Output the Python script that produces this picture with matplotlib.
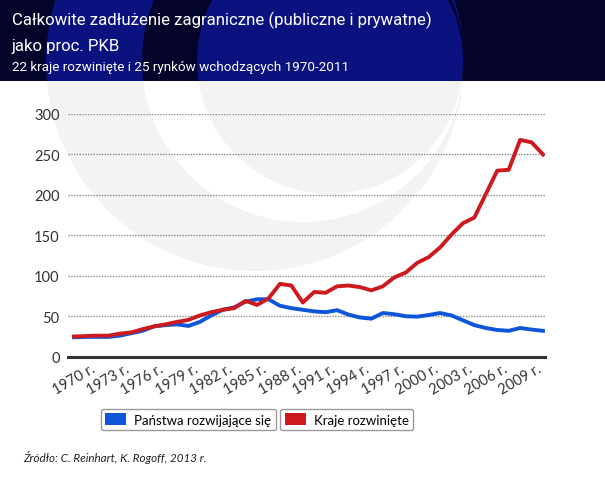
import matplotlib
matplotlib.use("Agg")
import matplotlib.pyplot as plt
from matplotlib.patches import Rectangle, Circle, Patch
import numpy as np

years = list(range(1970, 2012))
developing = [24, 24.5, 24.5, 24.5, 26, 29, 32, 37.5, 39, 40, 38, 43, 51, 58, 61,
              68, 71, 71, 63, 60, 58, 56, 55, 57.5, 52, 48.5, 47, 54, 52.5, 50,
              49.5, 51.5, 54, 51, 45, 39, 35.5, 33, 32, 35.5, 33.5, 32]
developed = [25, 25.5, 26, 26, 28.5, 30, 34, 37.5, 40, 43, 45.5, 51, 55, 58, 60,
             69, 64, 72, 90, 88, 67, 80, 79, 87, 88, 86, 82, 87, 98, 104,
             116, 123, 135, 151, 165, 172, 201, 230, 231, 268, 265, 250]
tick_years = list(range(1970, 2010, 3))
tick_labels = [f"{y} r." for y in tick_years]
y_ticks = [0, 50, 100, 150, 200, 250, 300]

title1 = "Całkowite zadłużenie zagraniczne (publiczne i prywatne)"
title2 = "jako proc. PKB"
subtitle = "22 kraje rozwinięte i 25 rynków wchodzących 1970-2011"
legend_labels = ["Państwa rozwijające się", "Kraje rozwinięte"]
source = "Źródło: C. Reinhart, K. Rogoff, 2013 r."

W, H = 605, 485
BLUE = "#0d55d9"
RED = "#cc1a1f"
NAVY = "#04042a"
NAVY_L = "#0a1280"
WM = "#f3f3f3"

fig = plt.figure(figsize=(W / 100, H / 100), dpi=100)
fig.patch.set_facecolor("white")

# background / decoration axes in pixel coordinates
bg = fig.add_axes([0, 0, 1, 1], zorder=0)
bg.set_xlim(0, W)
bg.set_ylim(H, 0)
bg.axis("off")
HEADER_H = 82
header = Rectangle((0, 0), W, HEADER_H, facecolor=NAVY, edgecolor="none")
bg.add_patch(header)
body_clip = Rectangle((0, HEADER_H), W, H - HEADER_H, transform=bg.transData)
head_clip = Rectangle((0, 0), W, HEADER_H, transform=bg.transData)
shapes = [((255, 63), 209), ((303, 62), 161), ((330, 62), 133)]
for i, (c, r) in enumerate(shapes):
    col_body = WM if i != 1 else "white"
    col_head = NAVY_L if i != 1 else NAVY
    cb = Circle(c, r, facecolor=col_body, edgecolor="none")
    bg.add_patch(cb)
    cb.set_clip_path(body_clip)
    ch = Circle(c, r, facecolor=col_head, edgecolor="none")
    bg.add_patch(ch)
    ch.set_clip_path(head_clip)

def fx(x):
    return x / W

def fy(y):
    return 1 - y / H

head_font = ["Roboto", "DejaVu Sans"]
fig.text(fx(12), fy(20), title1, color="white", fontsize=12.1, family=head_font,
         va="center", ha="left", zorder=5)
fig.text(fx(12), fy(46), title2, color="white", fontsize=12.1, family=head_font,
         va="center", ha="left", zorder=5)
fig.text(fx(12), fy(68), subtitle, color="white", fontsize=9.7, family=head_font,
         va="center", ha="left", zorder=5)

# main axes
x0, x1 = 68, 545
y_top, y_bot = 115, 357.7
ax = fig.add_axes([fx(x0), fy(y_bot), (x1 - x0) / W, (y_bot - y_top) / H], zorder=2)
ax.patch.set_alpha(0)
ax.plot(years, developing, color=BLUE, lw=2.8, solid_joinstyle="round", zorder=3)
ax.plot(years, developed, color=RED, lw=2.8, solid_joinstyle="round", zorder=4)
px_per_year = (543 - 74) / 41
ax.set_xlim(1970 - 6 / px_per_year, 2011 + 2 / px_per_year)
ax.set_ylim(0, 300)
ax.set_yticks(y_ticks)
ax.set_yticklabels([str(v) for v in y_ticks], family=["Lato", "DejaVu Sans"],
                   fontsize=10.5, color="#333333")
ax.set_xticks(tick_years)
ax.set_xticklabels(tick_labels, rotation=30, ha="center", va="top",
                   family=["Lato", "DejaVu Sans"], fontsize=10.5, color="#333333")
ax.tick_params(axis="both", length=0)
ax.tick_params(axis="y", pad=6)
ax.tick_params(axis="x", pad=3)
for s in ["top", "right", "left"]:
    ax.spines[s].set_visible(False)
ax.spines["bottom"].set_color("#333333")
ax.spines["bottom"].set_linewidth(2.2)
ax.yaxis.grid(True, linestyle=(0, (1, 1)), color="#8a8a8a", lw=1.0)
ax.set_axisbelow(True)

leg_font = {"family": ["Lato", "DejaVu Sans"], "size": 9.5}
common = dict(prop=leg_font, handlelength=1.6, handleheight=0.95, handletextpad=0.6,
              borderpad=0.35, borderaxespad=0, fancybox=True, framealpha=1,
              edgecolor="#9a9a9a")
l1 = fig.legend(handles=[Patch(facecolor=BLUE, edgecolor="none")],
                labels=[legend_labels[0]], loc="center right",
                bbox_to_anchor=(fx(276), fy(420.5)), **common)
l1.get_frame().set_linewidth(1.0)
l2 = fig.legend(handles=[Patch(facecolor=RED, edgecolor="none")],
                labels=[legend_labels[1]], loc="center left",
                bbox_to_anchor=(fx(280), fy(420.5)), **common)
l2.get_frame().set_linewidth(1.0)

fig.text(fx(23), fy(458), source, fontsize=8.4, style="italic",
         family=["Lato", "DejaVu Sans"], color="#222222", va="center", ha="left")

fig.savefig("out.png", dpi=100, facecolor="white")
